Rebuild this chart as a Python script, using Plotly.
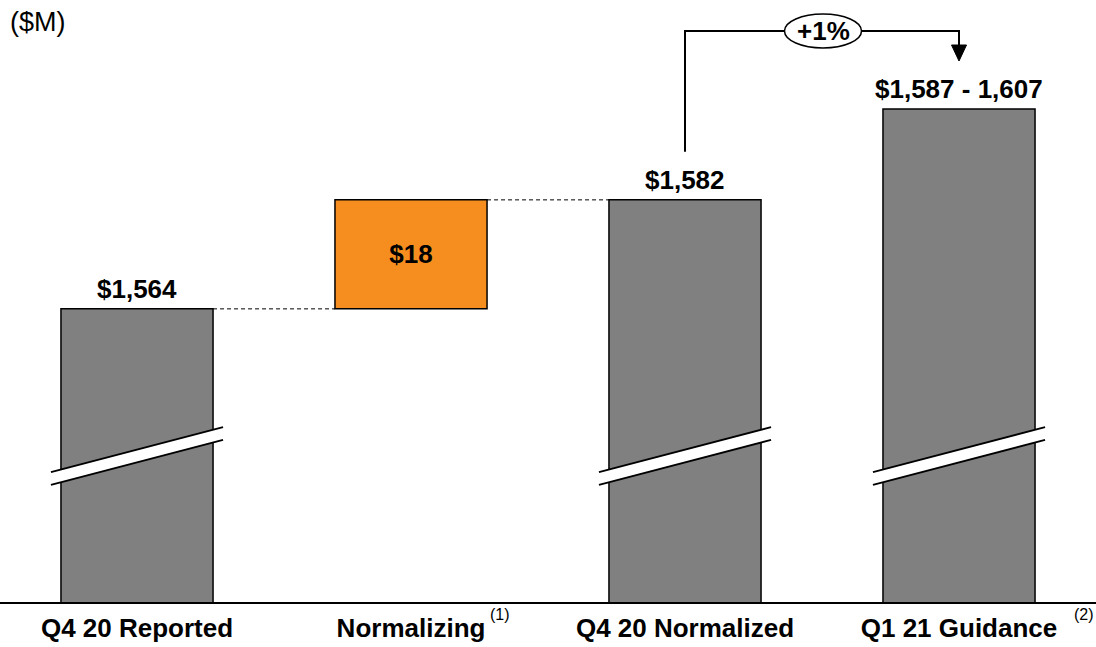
import plotly.graph_objects as go

categories = ["Q4 20 Reported", "Normalizing", "Q4 20 Normalized", "Q1 21 Guidance"]
footnotes = ["", "(1)", "", "(2)"]
reported = 1564
normalizing = 18
normalized = 1582
guidance_low = 1587
guidance_high = 1607
guidance_mid = (guidance_low + guidance_high) / 2
growth_label = "+1%"

FONT = "Arial, 'Liberation Sans', sans-serif"
GRAY = "#808080"
ORANGE = "#F68E1F"
BAR_W = 0.555
Y_MIN, Y_MAX = 1515.6, 1615.0
PX_PER_UNIT = 602 / (Y_MAX - Y_MIN)
CAT_PX = 274

def px(p):
    return p / PX_PER_UNIT

fig = go.Figure()

fig.add_trace(go.Bar(
    x=[0, 2, 3], y=[reported, normalized, guidance_mid],
    width=BAR_W, marker=dict(color=GRAY, line=dict(color="black", width=1.5)),
    hoverinfo="skip", showlegend=False,
))
fig.add_trace(go.Bar(
    x=[1], y=[normalizing], base=[reported], width=BAR_W,
    marker=dict(color=ORANGE, line=dict(color="black", width=1.5)),
    text=[f"${normalizing}"], textposition="inside", insidetextanchor="middle",
    textfont=dict(family=FONT, size=26, color="black", weight="bold"),
    hoverinfo="skip", showlegend=False,
))

shapes = []
shapes.append(dict(type="line", xref="x", yref="y", x0=0 + BAR_W / 2, x1=1 - BAR_W / 2,
                   y0=reported, y1=reported, line=dict(color="black", width=1, dash="4px,3px")))
shapes.append(dict(type="line", xref="x", yref="y", x0=1 + BAR_W / 2, x1=2 - BAR_W / 2,
                   y0=normalized, y1=normalized, line=dict(color="black", width=1, dash="4px,3px")))

# axis break marks
break_center = Y_MIN + px(602 - 456)
half_x = BAR_W / 2 + 10 / CAT_PX
rise = px(22.5)
gap = px(6.4)
for xc in [0, 2, 3]:
    xl, xr = xc - half_x, xc + half_x
    yl_top, yr_top = break_center - rise + gap, break_center + rise + gap
    yl_bot, yr_bot = break_center - rise - gap, break_center + rise - gap
    shapes.append(dict(type="path", xref="x", yref="y", layer="above",
                       path=f"M {xl},{yl_top} L {xr},{yr_top} L {xr},{yr_bot} L {xl},{yl_bot} Z",
                       fillcolor="white", line=dict(width=0)))
    shapes.append(dict(type="line", xref="x", yref="y", x0=xl, x1=xr, y0=yl_top, y1=yr_top,
                       line=dict(color="black", width=2)))
    shapes.append(dict(type="line", xref="x", yref="y", x0=xl, x1=xr, y0=yl_bot, y1=yr_bot,
                       line=dict(color="black", width=2)))

# growth bracket
bracket_top = Y_MAX - px(31)
bracket_start = normalized + px(48)
arrow_tip = Y_MAX - px(61)
arrow_base = Y_MAX - px(45)
shapes.append(dict(type="path", xref="x", yref="y",
                   path=f"M 2,{bracket_start} L 2,{bracket_top} L 3,{bracket_top} L 3,{arrow_base}",
                   line=dict(color="black", width=2)))
hw = 7.5 / CAT_PX
shapes.append(dict(type="path", xref="x", yref="y",
                   path=f"M {3 - hw},{arrow_base} L {3 + hw},{arrow_base} L 3,{arrow_tip} Z",
                   fillcolor="black", line=dict(color="black", width=1)))
ell_cx = 823 / CAT_PX - 0.5
ell_w = 77 / CAT_PX
shapes.append(dict(type="circle", xref="x", yref="y", layer="above",
                   x0=ell_cx - ell_w / 2, x1=ell_cx + ell_w / 2,
                   y0=Y_MAX - px(48), y1=Y_MAX - px(14),
                   fillcolor="white", line=dict(color="black", width=1.5)))

annotations = []
label_font = dict(family=FONT, size=26, color="black", weight="bold")
for xc, val, txt in [(0, reported, f"${reported:,}"),
                     (2, normalized, f"${normalized:,}"),
                     (3, guidance_mid, f"${guidance_low:,} - {guidance_high:,}")]:
    annotations.append(dict(x=xc, y=val, xref="x", yref="y", text=txt, showarrow=False,
                            yanchor="bottom", yshift=3, font=label_font))
annotations.append(dict(x=ell_cx, y=Y_MAX - px(31), xref="x", yref="y", text=growth_label,
                        showarrow=False, font=label_font))
annotations.append(dict(x=0, y=1 - 22 / 602, xref="paper", yref="paper", xanchor="left", yanchor="middle",
                        xshift=8, text="($M)", showarrow=False,
                        font=dict(family=FONT, size=27, color="black")))

# footnote markers next to category labels
fn_px = {1: 500, 3: 1084}
for i, fn in enumerate(footnotes):
    if fn:
        annotations.append(dict(x=(fn_px[i] / CAT_PX) - 0.5, y=0, xref="x", yref="paper",
                                yshift=-12, text=fn, showarrow=False, yanchor="middle",
                                font=dict(family=FONT, size=16, color="black")))

fig.update_layout(
    width=1096, height=647,
    margin=dict(l=0, r=0, t=0, b=45),
    plot_bgcolor="white", paper_bgcolor="white",
    barmode="overlay",
    shapes=shapes, annotations=annotations,
    xaxis=dict(range=[-0.5, 3.5], tickmode="array", tickvals=[0, 1, 2, 3], ticktext=categories,
               showline=True, linecolor="black", linewidth=2, showgrid=False, zeroline=False,
               ticks="", ticklabelstandoff=2, automargin=False,
               tickfont=dict(family=FONT, size=26, color="black", weight="bold"),
               fixedrange=True),
    yaxis=dict(range=[Y_MIN, Y_MAX], visible=False, showgrid=False, zeroline=False,
               automargin=False, fixedrange=True),
)

fig.write_html("out.html")
